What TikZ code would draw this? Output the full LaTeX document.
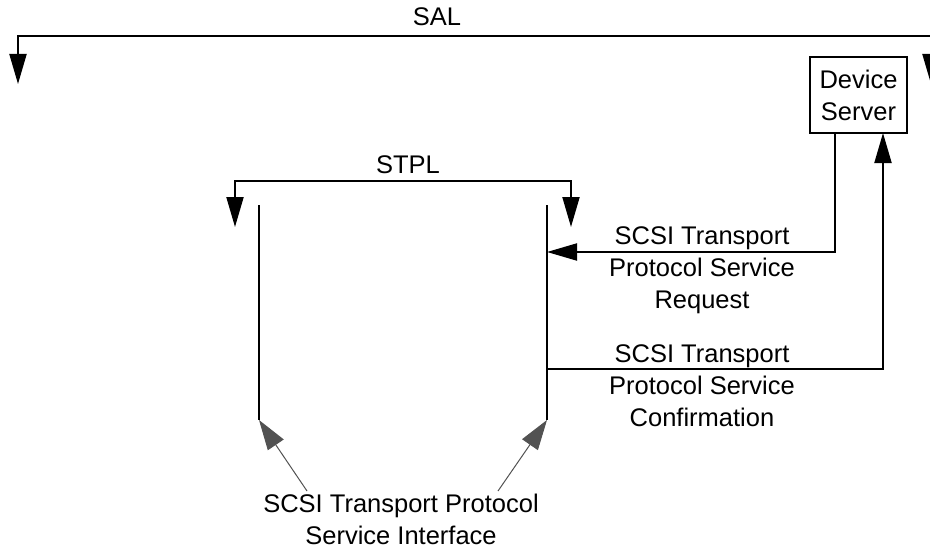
\documentclass[tikz,border=0pt]{standalone}
\usepackage{fontspec}
\setmainfont{Liberation Sans}
\usetikzlibrary{arrows.meta}
\begin{document}
\begin{tikzpicture}[x=1pt,y=-1pt,
  every node/.style={font=\fontsize{25.5}{32}\selectfont, inner sep=0pt, align=center},
  wire/.style={line width=2pt},
  bigtip/.style={-{Triangle[length=30pt,width=17pt]}},
  bothtips/.style={{Triangle[length=30pt,width=17pt]}-{Triangle[length=30pt,width=17pt]}},
  greyarrow/.style={draw=black!68, line width=1pt, -{Triangle[length=30pt,width=19pt,fill=black!68]}},
  box/.style={draw, line width=2pt, minimum width=97pt, minimum height=76pt}]
\useasboundingbox (0,0) rectangle (930,551);

% SAL
\node (sal) at (437,17) {SAL};
\coordinate (salLt) at (18,84);
\coordinate (salL) at (18,36);
\coordinate (salR) at (931,36);
\coordinate (salRt) at (931,84);
\draw[wire,bothtips] (salLt) -- (salL) -- (salR) -- (salRt);

% Device server
\node[box] (ds) at (858.5,95) {Device\\Server};
\coordinate (dsout) at (835,133);
\coordinate (dsin) at (883,133);

% STPL
\node (stpl) at (408,165) {STPL};
\coordinate (stLt) at (235,227);
\coordinate (stL) at (235,181);
\coordinate (stR) at (571,181);
\coordinate (stRt) at (571,227);
\draw[wire,bothtips] (stLt) -- (stL) -- (stR) -- (stRt);

% interface lines
\coordinate (ifLtop) at (259,205);
\coordinate (ifLbot) at (259,420);
\coordinate (ifRtop) at (547,205);
\coordinate (ifRbot) at (547,420);
\draw[wire] (ifLtop) -- (ifLbot);
\draw[wire] (ifRtop) -- (ifRbot);

% request / confirmation
\coordinate (reqend) at (547,252);
\coordinate (confstart) at (547,369);
\draw[wire,bigtip] (dsout) |- (reqend);
\draw[wire,bigtip] (confstart) -| (dsin);
\node (req) at (702,270) {SCSI Transport\\Protocol Service\\Request};
\node (conf) at (702,386) {SCSI Transport\\Protocol Service\\Confirmation};

% interface label
\node (iflabel) at (401,519) {SCSI Transport Protocol\\Service Interface};
\coordinate (gL) at (307,491);
\coordinate (gR) at (498,491);
\draw[greyarrow] (gL) -- (ifLbot);
\draw[greyarrow] (gR) -- (ifRbot);
\end{tikzpicture}
\end{document}
